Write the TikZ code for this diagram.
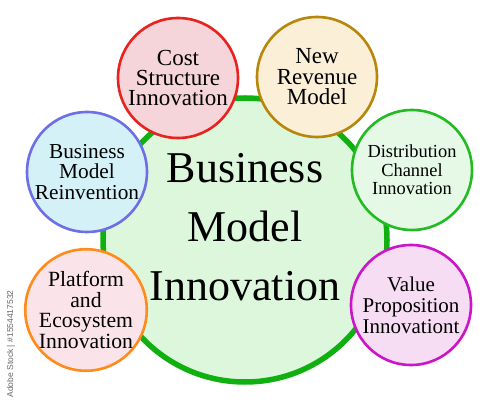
\documentclass[tikz,border=0pt]{standalone}
\usepackage{fontspec}
\setmainfont{Liberation Serif}
\newfontfamily\wmfont{Liberation Sans}
\begin{document}
\begin{tikzpicture}[x=1pt,y=1pt,
  bubble/.style={circle,minimum size=120pt,inner sep=0pt,line width=2.6pt,align=center,text=black},
  smalltxt/.style={font=\fontsize{23}{20.5}\selectfont}]
\useasboundingbox (0,0) rectangle (500,407);
\definecolor{bigfill}{HTML}{DDF7DD}\definecolor{bigline}{HTML}{10B010}
\definecolor{costfill}{HTML}{F5D5D9}\definecolor{costline}{HTML}{E8221E}
\definecolor{revfill}{HTML}{FCEFD8}\definecolor{revline}{HTML}{B8860B}
\definecolor{reinfill}{HTML}{D5F1F8}\definecolor{reinline}{HTML}{6E6EE6}
\definecolor{distfill}{HTML}{E6F9E6}\definecolor{distline}{HTML}{22BB22}
\definecolor{platfill}{HTML}{FAE4EA}\definecolor{platline}{HTML}{FF8C1A}
\definecolor{valfill}{HTML}{F6DDF3}\definecolor{valline}{HTML}{CC14C8}
\node[circle,minimum size=284pt,inner sep=0pt,line width=5.5pt,draw=bigline,fill=bigfill] (main) at (245,167) {};
\node[align=center,font=\fontsize{44}{59}\selectfont,inner sep=0pt] (title) at ([yshift=13pt]main.center) {Business\\Model\\Innovation};
\node[bubble,draw=costline,fill=costfill,smalltxt] (cost) at (178,329) {Cost\\Structure\\Innovation};
\node[bubble,draw=revline,fill=revfill,smalltxt] (rev) at (317,330) {New\\Revenue\\Model};
\node[bubble,draw=reinline,fill=reinfill,font=\fontsize{21.3}{20.5}\selectfont] (rein) at (87,235) {Business\\Model\\Reinvention};
\node[bubble,draw=distline,fill=distfill,font=\fontsize{18.4}{18.5}\selectfont] (dist) at (412,237) {Distribution\\Channel\\Innovation};
\node[bubble,draw=platline,fill=platfill,font=\fontsize{21.7}{20.7}\selectfont] (plat) at (86,97) {Platform\\and\\Ecosystem\\Innovation};
\node[bubble,draw=valline,fill=valfill,font=\fontsize{21}{21}\selectfont] (val) at (411,102) {Value\\Proposition\\Innovationt};
\node[rotate=90,text=gray!80!black,font=\wmfont\fontsize{8.5}{8.5}\selectfont,inner sep=0pt] (wm) at (11,63) {Adobe Stock | \#1554417532};
\end{tikzpicture}
\end{document}
